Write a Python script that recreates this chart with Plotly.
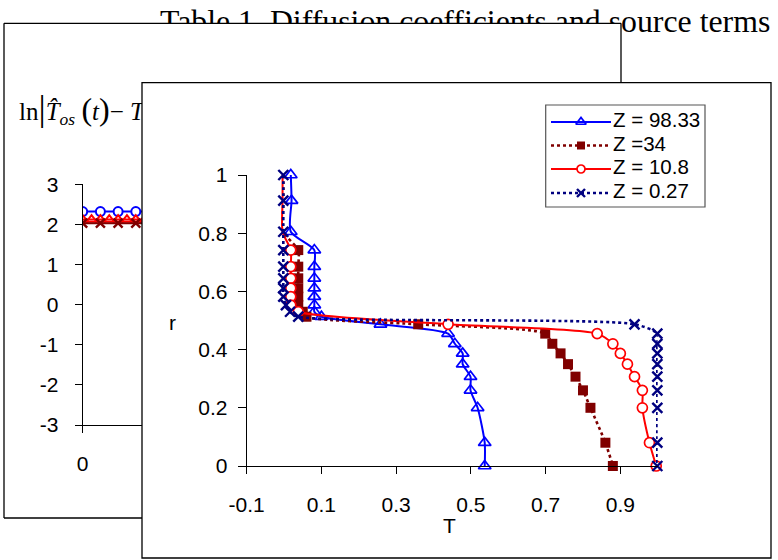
import plotly.graph_objects as go

W, H = 778, 560

# ---------------- data: front chart (r vs T) ----------------
series_names = ["Z = 98.33", "Z =34", "Z = 10.8", "Z = 0.27"]

r_blue = [1.0, 0.912, 0.805, 0.742, 0.685, 0.645, 0.611, 0.582, 0.553, 0.530, 0.513,
          0.487, 0.455, 0.420, 0.387, 0.350, 0.307, 0.260, 0.200, 0.080, 0.0]
T_blue = [0.018, 0.020, 0.018, 0.081, 0.081, 0.081, 0.081, 0.081, 0.081, 0.081, 0.100,
          0.258, 0.439, 0.457, 0.478, 0.478, 0.499, 0.499, 0.518, 0.537, 0.537]

r_dred = [1.0, 0.912, 0.805, 0.742, 0.685, 0.645, 0.611, 0.582, 0.553, 0.530, 0.513,
          0.487, 0.455, 0.420, 0.387, 0.350, 0.307, 0.260, 0.200, 0.080, 0.0]
T_dred = [-0.002, -0.002, -0.002, 0.038, 0.038, 0.038, 0.038, 0.038, 0.038, 0.050, 0.060,
          0.359, 0.699, 0.718, 0.740, 0.760, 0.780, 0.800, 0.820, 0.860, 0.880]

r_red = [1.0, 0.912, 0.805, 0.742, 0.685, 0.645, 0.611, 0.582, 0.553, 0.530,
         0.487, 0.455, 0.420, 0.387, 0.350, 0.307, 0.260, 0.200, 0.080, 0.0]
T_red = [-0.004, -0.004, -0.004, 0.018, 0.018, 0.018, 0.018, 0.018, 0.018, 0.038,
         0.439, 0.838, 0.880, 0.900, 0.919, 0.938, 0.959, 0.959, 0.978, 0.996]

r_navy = [1.0, 0.912, 0.805, 0.742, 0.685, 0.645, 0.611, 0.582, 0.553, 0.530, 0.513,
          0.487, 0.455, 0.420, 0.387, 0.350, 0.307, 0.260, 0.200, 0.080, 0.0]
T_navy = [-0.002, -0.002, -0.002, -0.002, -0.002, -0.002, -0.002, -0.002, 0.005, 0.016, 0.038,
          0.938, 0.999, 0.999, 0.999, 0.999, 0.999, 0.999, 0.999, 0.999, 0.999]

T_tick_vals = [-0.1, 0.1, 0.3, 0.5, 0.7, 0.9]
T_tick_labels = ["-0.1", "0.1", "0.3", "0.5", "0.7", "0.9"]
r_tick_vals = [0, 0.2, 0.4, 0.6, 0.8, 1.0]
r_tick_labels = ["0", "0.2", "0.4", "0.6", "0.8", "1"]

# ---------------- data: back chart (partly hidden) ----------------
t_back = [0, 1.2, 2.4, 3.6, 4.8]
t_back_red = [0, 0.6, 1.2, 1.8, 2.4, 3.0, 3.6, 4.2, 4.8]
ln_blue = [2.32, 2.32, 2.32, 2.32, 2.32]
ln_red = [2.12, 2.12, 2.12, 2.12, 2.12, 2.12, 2.12, 2.12, 2.12]
ln_dred = [2.03, 2.03, 2.03, 2.03, 2.03]
back_y_vals = [-3, -2, -1, 0, 1, 2, 3]
back_y_labels = ["-3", "-2", "-1", "0", "1", "2", "3"]

title_text = "Table 1. Diffusion coefficients and source terms"
formula_text = ("ln<span style='font-size:36px'>|</span><i>T\u0302</i><sub><i>os</i></sub> "
                "<span style='font-size:32px'>(</span><i>t</i><span style='font-size:32px'>)</span>"
                "\u2212 <i>T</i>")

SANS = "Arial, Liberation Sans, sans-serif"
SERIF = "Times New Roman, Liberation Serif, serif"
TICK_SIZE = 21

def fx(p):
    return p / W

def fy(p):
    return 1 - p / H

fig = go.Figure()

# ---------------- front chart traces ----------------
styles = [
    dict(color="#0000FF", dash="solid", symbol="triangle-up-open", size=11, mlw=1.7, fill="#0000FF"),
    dict(color="#800000", dash="dot", symbol="square", size=10, mlw=0, fill="#800000"),
    dict(color="#FF0000", dash="solid", symbol="circle", size=10, mlw=1.7, fill="white"),
    dict(color="#000080", dash="dot", symbol="x-thin", size=10, mlw=2.4, fill="#000080"),
]
front_data = [(T_blue, r_blue), (T_dred, r_dred), (T_red, r_red), (T_navy, r_navy)]
hidden_top = [0, 3, 3, 0]  # markers hidden under other series at the top

for (tx, ry), st, nh in zip(front_data, styles, hidden_top):
    sizes = [0] * nh + [st["size"]] * (len(tx) - nh)
    fig.add_trace(go.Scatter(
        x=tx, y=ry, mode="lines+markers", xaxis="x", yaxis="y",
        line=dict(color=st["color"], width=2 if st["dash"] == "solid" else 2.6,
                  dash=st["dash"], shape="spline", smoothing=0.7),
        marker=dict(symbol=st["symbol"], size=sizes, color=st["fill"], opacity=1,
                    line=dict(color=st["color"], width=st["mlw"])),
        cliponaxis=False, showlegend=False, hoverinfo="skip"))

# ---------------- back chart traces ----------------
fig.add_trace(go.Scatter(x=t_back, y=ln_blue, mode="lines+markers", xaxis="x2", yaxis="y2",
                         line=dict(color="#0000FF", width=2),
                         marker=dict(symbol="circle", size=9, color="white", opacity=1,
                                     line=dict(color="#0000FF", width=2)),
                         showlegend=False, hoverinfo="skip"))
fig.add_trace(go.Scatter(x=t_back_red, y=ln_red, mode="lines+markers", xaxis="x2", yaxis="y2",
                         line=dict(color="#FF0000", width=2),
                         marker=dict(symbol="triangle-up-open", size=9, color="#FF0000", opacity=1,
                                     line=dict(color="#FF0000", width=2)),
                         showlegend=False, hoverinfo="skip"))
fig.add_trace(go.Scatter(x=t_back, y=ln_dred, mode="lines+markers", xaxis="x2", yaxis="y2",
                         line=dict(color="#800000", width=2),
                         marker=dict(symbol="x-thin", size=9, color="#800000", opacity=1,
                                     line=dict(color="#800000", width=2.4)),
                         showlegend=False, hoverinfo="skip"))

# ---------------- title (clipped by back box) ----------------
for ax in ("3", "4"):
    fig.add_trace(go.Scatter(x=[160], y=[24], mode="text", text=[title_text],
                             textposition="middle right", xaxis="x" + ax, yaxis="y" + ax,
                             textfont=dict(family=SERIF, size=31.8, color="black"),
                             cliponaxis=True, showlegend=False, hoverinfo="skip"))

# ---------------- formula (clipped by front box) ----------------
fig.add_trace(go.Scatter(x=[19], y=[114], mode="text", text=[formula_text],
                         textposition="middle right", xaxis="x5", yaxis="y5",
                         textfont=dict(family=SERIF, size=25, color="black"),
                         cliponaxis=True, showlegend=False, hoverinfo="skip"))

# ---------------- manual legend ----------------
leg_rows = [122, 145.5, 169, 193]
for name, st, ry in zip(series_names, styles, leg_rows):
    fig.add_trace(go.Scatter(x=[551, 611], y=[ry, ry], mode="lines", xaxis="x6", yaxis="y6",
                             line=dict(color=st["color"], width=2 if st["dash"] == "solid" else 2.6,
                                       dash=st["dash"]),
                             cliponaxis=False, showlegend=False, hoverinfo="skip"))
    fig.add_trace(go.Scatter(x=[581], y=[ry], mode="markers", xaxis="x6", yaxis="y6",
                             marker=dict(symbol=st["symbol"], size=st["size"] - 2, color=st["fill"],
                                         opacity=1, line=dict(color=st["color"], width=st["mlw"])),
                             cliponaxis=False, showlegend=False, hoverinfo="skip"))
    fig.add_trace(go.Scatter(x=[613], y=[ry], mode="text", text=[name], xaxis="x6", yaxis="y6",
                             textposition="middle right",
                             textfont=dict(family=SANS, size=20.5, color="black"),
                             cliponaxis=False, showlegend=False, hoverinfo="skip"))

# ---------------- shapes: boxes ----------------
line_k = dict(color="black", width=1.3)
shapes = [
    dict(type="line", xref="paper", yref="paper", x0=fx(4), x1=fx(4), y0=fy(23.3), y1=fy(518), line=line_k),
    dict(type="line", xref="paper", yref="paper", x0=fx(4), x1=fx(621), y0=fy(23.3), y1=fy(23.3), line=line_k),
    dict(type="line", xref="paper", yref="paper", x0=fx(621), x1=fx(621), y0=fy(23.3), y1=fy(82.7), line=line_k),
    dict(type="line", xref="paper", yref="paper", x0=fx(4), x1=fx(142), y0=fy(518), y1=fy(518), line=line_k),
    dict(type="rect", xref="paper", yref="paper", x0=fx(142), x1=fx(771), y0=fy(558), y1=fy(82.7),
         line=line_k, fillcolor="rgba(0,0,0,0)"),
    dict(type="rect", xref="paper", yref="paper", x0=fx(545.7), x1=fx(705), y0=fy(207), y1=fy(105),
         line=dict(color="#555555", width=1.2), fillcolor="rgba(0,0,0,0)"),
]

annotations = [
    dict(text="r", x=fx(172), y=fy(322), xref="paper", yref="paper", showarrow=False,
         font=dict(family=SANS, size=21, color="black"), xanchor="center", yanchor="middle"),
    dict(text="T", x=fx(449), y=fy(525), xref="paper", yref="paper", showarrow=False,
         font=dict(family=SANS, size=21, color="black"), xanchor="center", yanchor="middle"),
]

axis_common = dict(showgrid=False, zeroline=False, showline=True, linecolor="black", linewidth=1,
                   ticks="outside", tickcolor="black", tickwidth=1, automargin=False,
                   tickfont=dict(family=SANS, size=TICK_SIZE, color="black"), fixedrange=True)
hidden_axis = dict(visible=False, showgrid=False, zeroline=False, fixedrange=True, automargin=False)

fig.update_layout(
    template="none",
    width=W, height=H, autosize=False,
    margin=dict(l=0, r=0, t=0, b=0, pad=0, autoexpand=False),
    paper_bgcolor="white", plot_bgcolor="rgba(0,0,0,0)",
    font=dict(family=SANS, color="black"),
    showlegend=False, shapes=shapes, annotations=annotations,
    xaxis=dict(axis_common, domain=[fx(246.7), fx(657.7)], range=[-0.1, 1.0], anchor="y",
               tickvals=T_tick_vals, ticktext=T_tick_labels, ticklen=7, ticklabelstandoff=13),
    yaxis=dict(axis_common, domain=[fy(466), fy(175)], range=[0, 1], anchor="x",
               tickvals=r_tick_vals, ticktext=r_tick_labels, ticklen=8, ticklabelstandoff=6),
    xaxis2=dict(axis_common, domain=[fx(82.7), fx(142)], range=[0, 4.02], anchor="y2",
                tickvals=[0], ticktext=["0"], ticklen=7, ticklabelstandoff=13),
    yaxis2=dict(axis_common, domain=[fy(425), fy(184.3)], range=[-3, 3], anchor="x2",
                tickvals=back_y_vals, ticktext=back_y_labels, ticklen=7, ticklabelstandoff=12),
    xaxis3=dict(hidden_axis, domain=[0, fx(621)], range=[0, 621], anchor="y3"),
    yaxis3=dict(hidden_axis, domain=[fy(23.3), 1], range=[23.3, 0], anchor="x3"),
    xaxis4=dict(hidden_axis, domain=[fx(621), 1], range=[621, 778], anchor="y4"),
    yaxis4=dict(hidden_axis, domain=[fy(82.7), 1], range=[82.7, 0], anchor="x4"),
    xaxis5=dict(hidden_axis, domain=[fx(4), fx(142)], range=[4, 142], anchor="y5"),
    yaxis5=dict(hidden_axis, domain=[fy(518), fy(23.3)], range=[518, 23.3], anchor="x5"),
    xaxis6=dict(hidden_axis, domain=[0, 1], range=[0, W], anchor="y6"),
    yaxis6=dict(hidden_axis, domain=[0, 1], range=[H, 0], anchor="x6"),
)

fig.write_html("out.html", config={"displayModeBar": False, "staticPlot": True},
               post_script="document.body.style.margin='0px';document.body.style.overflow='hidden';")
